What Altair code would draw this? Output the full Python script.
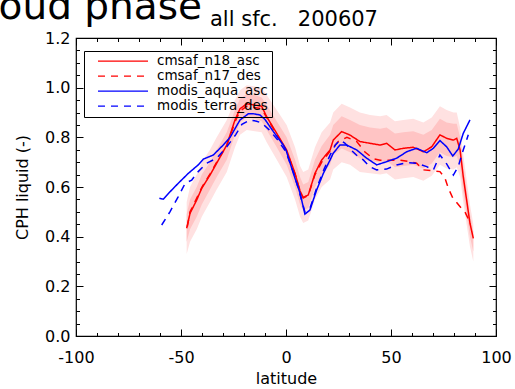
import altair as alt
import pandas as pd

W, H = 420, 298

series_names = ["cmsaf_n18_asc", "cmsaf_n17_des", "modis_aqua_asc", "modis_terra_des"]
series_colors = ["#ff0000", "#ff0000", "#0000ff", "#0000ff"]
series_dashes = [[1, 0], [7, 6], [1, 0], [7, 6]]

x_major = [-100, -50, 0, 50, 100]
x_minor = [-90, -80, -70, -60, -40, -30, -20, -10, 10, 20, 30, 40, 60, 70, 80, 90]
y_major = [0.0, 0.2, 0.4, 0.6, 0.8, 1.0, 1.2]
y_minor = [0.05, 0.1, 0.15, 0.25, 0.3, 0.35, 0.45, 0.5, 0.55, 0.65, 0.7, 0.75,
           0.85, 0.9, 0.95, 1.05, 1.1, 1.15]

n18_lat = [-47.3, -45.7, -42.5, -40.1, -36.2, -33.0, -28.2, -24.3, -21.9, -18.7, -14.8, -11.6,
           -9.2, -4.4, 0.3, 4.3, 6.7, 8.2, 10.6, 13.8, 17.0, 21.0, 22.5, 26.5, 30.5, 35.2,
           40.0, 44.8, 47.9, 51.9, 55.9, 60.6, 65.4, 69.4, 73.3, 76.5, 79.7, 81.3, 82.9,
           84.4, 86.0, 87.6, 89.2]
n18_val = [0.434, 0.494, 0.548, 0.595, 0.648, 0.696, 0.769, 0.870, 0.915, 0.935, 0.930, 0.925,
           0.883, 0.816, 0.749, 0.655, 0.584, 0.558, 0.568, 0.655, 0.709, 0.749, 0.789, 0.823,
           0.809, 0.783, 0.776, 0.769, 0.776, 0.749, 0.756, 0.760, 0.742, 0.762, 0.810, 0.796,
           0.789, 0.796, 0.749, 0.642, 0.548, 0.454, 0.393]

outer_hi = [0.54, 0.60, 0.65, 0.70, 0.75, 0.80, 0.87, 0.95, 0.99, 1.01, 1.005, 1.00,
            0.97, 0.91, 0.85, 0.76, 0.685, 0.66, 0.67, 0.76, 0.82, 0.86, 0.90, 0.935,
            0.92, 0.90, 0.89, 0.885, 0.89, 0.865, 0.87, 0.875, 0.86, 0.88, 0.925, 0.91,
            0.90, 0.90, 0.84, 0.73, 0.63, 0.53, 0.45]
outer_lo = [0.33, 0.38, 0.43, 0.48, 0.54, 0.59, 0.66, 0.76, 0.81, 0.83, 0.825, 0.82,
            0.78, 0.71, 0.64, 0.55, 0.48, 0.455, 0.465, 0.55, 0.60, 0.63, 0.67, 0.70,
            0.69, 0.66, 0.655, 0.65, 0.655, 0.63, 0.635, 0.64, 0.625, 0.645, 0.69, 0.675,
            0.67, 0.68, 0.64, 0.54, 0.45, 0.36, 0.30]
inner_hi = [0.49, 0.55, 0.60, 0.65, 0.70, 0.75, 0.82, 0.91, 0.955, 0.975, 0.97, 0.96,
            0.93, 0.865, 0.80, 0.71, 0.64, 0.61, 0.62, 0.71, 0.765, 0.81, 0.85, 0.885,
            0.87, 0.85, 0.84, 0.835, 0.84, 0.815, 0.82, 0.825, 0.81, 0.83, 0.875, 0.86,
            0.855, 0.855, 0.80, 0.69, 0.59, 0.49, 0.42]
inner_lo = [0.38, 0.43, 0.48, 0.53, 0.59, 0.64, 0.71, 0.81, 0.86, 0.88, 0.875, 0.865,
            0.83, 0.76, 0.69, 0.60, 0.53, 0.505, 0.515, 0.60, 0.65, 0.69, 0.73, 0.755,
            0.74, 0.715, 0.705, 0.70, 0.705, 0.68, 0.685, 0.69, 0.675, 0.695, 0.74, 0.725,
            0.72, 0.725, 0.68, 0.58, 0.49, 0.40, 0.34]

n17_lat = [-47.0, -45.7, -42.5, -40.0, -36.0, -33.0, -28.0, -24.3, -22.0, -18.7, -15.0, -11.6,
           -9.2, -4.4, 0.3, 4.3, 6.7, 8.2, 10.6, 13.8, 17.0, 21.0, 24.9, 29.0, 33.7, 37.6,
           41.6, 44.8, 49.5, 54.3, 59.0, 62.2, 65.4, 70.2, 73.3, 75.7, 77.3, 79.7, 81.0,
           83.6, 85.2, 86.8]
n17_val = [0.44, 0.50, 0.555, 0.60, 0.655, 0.70, 0.772, 0.862, 0.905, 0.925, 0.92, 0.915,
           0.88, 0.812, 0.745, 0.652, 0.582, 0.556, 0.566, 0.65, 0.70, 0.745, 0.783, 0.80,
           0.783, 0.741, 0.714, 0.708, 0.708, 0.708, 0.702, 0.696, 0.669, 0.665, 0.662,
           0.636, 0.595, 0.55, 0.54, 0.514, 0.50, 0.472]

aqua_lat = [-60.3, -58.4, -55.2, -51.3, -46.5, -41.8, -39.4, -34.6, -29.9, -26.7, -21.9, -17.9,
            -15.6, -12.4, -10.0, -6.0, -1.3, 0.0, 3.5, 6.7, 9.0, 11.4, 13.0, 14.6, 17.8, 21.0,
            22.5, 25.7, 28.9, 33.7, 38.4, 43.2, 47.9, 52.7, 57.5, 62.2, 67.0, 70.2, 73.3,
            76.5, 79.4, 82.0, 84.4, 87.6]
aqua_val = [0.555, 0.551, 0.581, 0.615, 0.655, 0.689, 0.712, 0.729, 0.769, 0.799, 0.870, 0.895,
            0.895, 0.890, 0.872, 0.823, 0.769, 0.749, 0.655, 0.575, 0.491, 0.507, 0.548, 0.588,
            0.655, 0.709, 0.736, 0.769, 0.769, 0.749, 0.716, 0.689, 0.702, 0.716, 0.742, 0.756,
            0.738, 0.756, 0.787, 0.762, 0.725, 0.752, 0.816, 0.870]

terra_lat = [-59.2, -55.2, -51.3, -48.0, -44.9, -41.8, -37.8, -33.0, -28.2, -24.0, -21.0, -17.1,
             -14.0, -11.6, -8.0, -4.0, 0.0, 4.0, 7.0, 9.0, 11.5, 14.6, 18.0, 21.0, 23.5, 25.7,
             28.0, 31.0, 34.0, 36.8, 40.0, 43.2, 47.9, 52.7, 57.5, 62.2, 67.0, 70.2, 73.3,
             76.5, 79.7, 82.0, 84.4, 86.8]
terra_val = [0.447, 0.501, 0.561, 0.615, 0.628, 0.662, 0.696, 0.716, 0.762, 0.81, 0.852, 0.870,
             0.865, 0.858, 0.83, 0.79, 0.741, 0.648, 0.56, 0.50, 0.516, 0.596, 0.669, 0.729,
             0.769, 0.789, 0.777, 0.749, 0.725, 0.709, 0.681, 0.669, 0.672, 0.689, 0.698,
             0.696, 0.682, 0.669, 0.729, 0.693, 0.648, 0.682, 0.749, 0.810]

title_main = "cloud phase"
title_sub = "all sfc.\u00a0\u00a0 200607"
x_title = "latitude"
y_title = "CPH liquid (-)"

FONT = "DejaVu Sans"

frames = []
for name, lats, vals in [(series_names[0], n18_lat, n18_val),
                         (series_names[1], n17_lat, n17_val),
                         (series_names[2], aqua_lat, aqua_val),
                         (series_names[3], terra_lat, terra_val)]:
    frames.append(pd.DataFrame({"series": name, "lat": lats, "val": vals}))
lines_df = pd.concat(frames, ignore_index=True)

band_df = pd.DataFrame({"lat": n18_lat, "olo": outer_lo, "ohi": outer_hi,
                        "ilo": inner_lo, "ihi": inner_hi})

XS = alt.Scale(domain=[-100, 100], nice=False, zero=False)
YS = alt.Scale(domain=[0, 1.2], nice=False, zero=False)

outer = alt.Chart(band_df).mark_area(color="#ffe1e1", opacity=1).encode(
    x=alt.X("lat:Q", scale=XS, axis=None),
    y=alt.Y("olo:Q", scale=YS, axis=None),
    y2="ohi:Q",
)
inner = alt.Chart(band_df).mark_area(color="#ffc4c4", opacity=1).encode(
    x=alt.X("lat:Q", scale=XS, axis=None),
    y=alt.Y("ilo:Q", scale=YS, axis=None),
    y2="ihi:Q",
)

leg = alt.Legend(
    title=None, orient="none", legendX=8, legendY=13,
    symbolType="stroke", symbolSize=2500, symbolStrokeWidth=1.4,
    symbolOffset=9.5, labelOffset=8,
    labelFont=FONT, labelFontSize=13.5, labelColor="black", labelLimit=300,
    padding=3.5, rowPadding=0, clipHeight=13.2,
    strokeColor="black",
)

lines = alt.Chart(lines_df).mark_line(strokeWidth=1.5).encode(
    x=alt.X("lat:Q", scale=XS, axis=None),
    y=alt.Y("val:Q", scale=YS, axis=None),
    color=alt.Color("series:N", scale=alt.Scale(domain=series_names, range=series_colors),
                    legend=leg, sort=series_names),
    strokeDash=alt.StrokeDash("series:N", scale=alt.Scale(domain=series_names, range=series_dashes),
                              legend=leg, sort=series_names),
)

dom_df = pd.DataFrame({"lat": [-100, 100], "val": [0.0, 1.2]})


def axis_layer(xaxis, yaxis):
    return alt.Chart(dom_df).mark_point(opacity=0).encode(
        x=alt.X("lat:Q", scale=XS, axis=xaxis),
        y=alt.Y("val:Q", scale=YS, axis=yaxis),
    )


common_tick = dict(labels=False, domain=False, grid=False, title=None,
                   tickColor="black", tickWidth=1)

ax_labels = axis_layer(
    alt.Axis(orient="bottom", values=x_major, ticks=False, tickSize=0, domain=False, grid=False,
             labelPadding=13, labelFont=FONT, labelFontSize=16, labelColor="black",
             labelFlush=False, labelOverlap=False, labelExpr="toString(datum.value)",
             title=x_title, titleFont=FONT, titleFontSize=16, titleFontWeight="normal",
             titleColor="black", titlePadding=5),
    alt.Axis(orient="left", values=y_major, ticks=False, tickSize=0, domain=False, grid=False,
             labelPadding=6, labelFont=FONT, labelFontSize=16, labelColor="black",
             labelFlush=False, labelOverlap=False, format=".1f",
             title=y_title, titleFont=FONT, titleFontSize=16, titleFontWeight="normal",
             titleColor="black", titlePadding=14),
)
ax_major_in = axis_layer(
    alt.Axis(orient="top", offset=-H, values=x_major, tickSize=7, **common_tick),
    alt.Axis(orient="right", offset=-W, values=y_major, tickSize=7, **common_tick),
)
ax_minor_in = axis_layer(
    alt.Axis(orient="top", offset=-H, values=x_minor, tickSize=3.5, **common_tick),
    alt.Axis(orient="right", offset=-W, values=y_minor, tickSize=3.5, **common_tick),
)
ax_major_opp = axis_layer(
    alt.Axis(orient="bottom", offset=-H, values=x_major, tickSize=7, **common_tick),
    alt.Axis(orient="left", offset=-W, values=y_major, tickSize=7, **common_tick),
)
ax_minor_opp = axis_layer(
    alt.Axis(orient="bottom", offset=-H, values=x_minor, tickSize=3.5, **common_tick),
    alt.Axis(orient="left", offset=-W, values=y_minor, tickSize=3.5, **common_tick),
)

t_main = alt.Chart(pd.DataFrame({"t": [title_main]})).mark_text(
    align="right", baseline="alphabetic", font=FONT, fontSize=39, color="black"
).encode(x=alt.value(126), y=alt.value(-18.7), text="t:N")
t_sub = alt.Chart(pd.DataFrame({"t": [title_sub]})).mark_text(
    align="left", baseline="alphabetic", font=FONT, fontSize=21, color="black"
).encode(x=alt.value(134), y=alt.value(-12), text="t:N")

chart = alt.layer(
    outer, inner, lines,
    ax_labels, ax_major_in, ax_minor_in, ax_major_opp, ax_minor_opp,
    t_main, t_sub,
).resolve_axis(x="independent", y="independent").properties(
    width=W, height=H,
    autosize=alt.AutoSizeParams(type="none"),
    padding={"left": 76, "top": 38, "right": 19, "bottom": 53},
).configure_view(
    stroke="black", strokeWidth=1.2
).configure_legend(
    strokeWidth=1
)

chart.save("out.html", embed_options={"renderer": "svg", "actions": False})
